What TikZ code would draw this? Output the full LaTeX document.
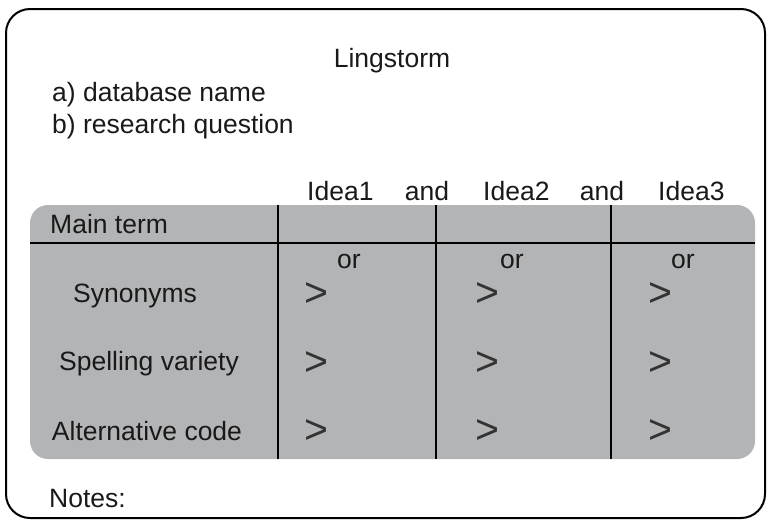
\documentclass[tikz,border=0pt]{standalone}
\usepackage{fontspec}
\setmainfont{Liberation Sans}
\definecolor{tblgray}{RGB}{179,180,182}
\begin{document}
\begin{tikzpicture}[x=1pt,y=-1pt,
  lbl/.style={font=\fontsize{26.5}{30}\selectfont, inner sep=0pt, text=black!90},
  gt/.style={font=\fontsize{41}{44}\selectfont, inner sep=0pt, text=black!80},
  rule/.style={line width=2.6pt, black}]
\useasboundingbox (0,0) rectangle (768,520);
\draw[line width=2pt, rounded corners=24pt] (6,9) rectangle (765,518);
\fill[tblgray, rounded corners=18pt] (30,205) rectangle (755,459);
\draw[rule] (30,243) -- (755,243);
\draw[rule] (278,205) -- (278,459);
\draw[rule] (436,205) -- (436,459);
\draw[rule] (611,205) -- (611,459);
\node[lbl, anchor=base] (title) at (392,67) {Lingstorm};
\node[lbl, anchor=base west] (qa) at (52,101) {a) database name};
\node[lbl, anchor=base west] (qb) at (52,133) {b) research question};
\node[lbl, anchor=base west] (i1) at (307,200) {Idea1};
\node[lbl, anchor=base] (and1) at (427,200) {and};
\node[lbl, anchor=base west] (i2) at (483,200) {Idea2};
\node[lbl, anchor=base] (and2) at (602,200) {and};
\node[lbl, anchor=base west] (i3) at (658,200) {Idea3};
\node[lbl, anchor=base west] (main) at (50,233) {Main term};
\node[lbl, anchor=base] (syn) at (135,302) {Synonyms};
\node[lbl, anchor=base] (spell) at (149,370) {Spelling variety};
\node[lbl, anchor=base] (alt) at (147,440) {Alternative code};
\node[lbl, anchor=base] (or1) at (349,268) {or};
\node[lbl, anchor=base] (or2) at (512,268) {or};
\node[lbl, anchor=base] (or3) at (683,268) {or};
\node[gt, anchor=base west] (g11) at (304,306.5) {>};
\node[gt, anchor=base west] (g12) at (475,306.5) {>};
\node[gt, anchor=base west] (g13) at (648,306.5) {>};
\node[gt, anchor=base west] (g21) at (304,375.5) {>};
\node[gt, anchor=base west] (g22) at (475,375.5) {>};
\node[gt, anchor=base west] (g23) at (648,375.5) {>};
\node[gt, anchor=base west] (g31) at (304,443.5) {>};
\node[gt, anchor=base west] (g32) at (475,443.5) {>};
\node[gt, anchor=base west] (g33) at (648,443.5) {>};
\node[lbl, anchor=base west] (notes) at (49,507) {Notes:};
\end{tikzpicture}
\end{document}
